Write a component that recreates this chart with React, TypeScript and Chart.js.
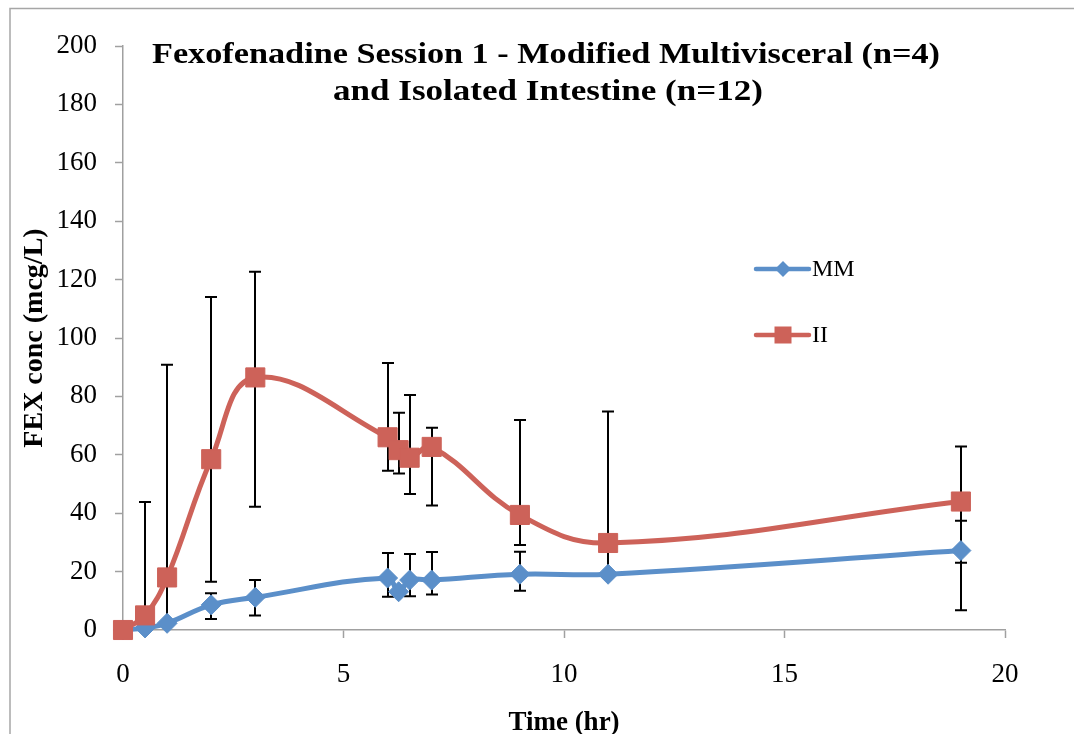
import React, { useEffect, useRef } from 'react';
import { Chart, registerables } from 'chart.js';

Chart.register(...registerables);

// ---- data ----
const times = [0, 0.5, 1, 2, 3, 6, 6.25, 6.5, 7, 9, 11, 19];
const mmValues = [0, 0.7, 2.3, 8.6, 11.2, 17.8, 13.1, 17.1, 17.1, 19.1, 19.1, 27.2];
const mmUpper: (number | null)[] = [null, null, null, 12.6, 17.1, 26.4, null, 26.0, 26.7, 26.8, null, 37.4];
const mmLower: (number | null)[] = [null, null, null, 3.8, 5.0, 11.4, null, 11.6, 12.2, 13.4, null, 6.8];
const iiValues = [0, 5, 18, 58.5, 86.5, 66, 61.6, 59, 62.7, 39.4, 29.8, 44];
const iiUpper: (number | null)[] = [null, 43.8, 90.8, 114, 122.7, 91.4, 74.4, 80.5, 69.3, 71.9, 74.8, 62.8];
const iiLower: (number | null)[] = [null, -34, -55, 16.5, 42.2, 54.5, 53.6, 46.6, 42.6, 29.1, 19.1, 23];
const seriesLabels = ['MM', 'II'];
const titleLines = ['Fexofenadine Session 1 - Modified Multivisceral (n=4)', 'and Isolated Intestine (n=12)'];
const xTitle = 'Time (hr)';
const yTitle = 'FEX conc (mcg/L)';
const xMin = 0, xMax = 20, xStep = 5;
const yMin = 0, yMax = 200, yStep = 20;

const FONT = '"Liberation Serif", "Times New Roman", serif';
const BLUE = '#5B8FC9';
const RED = '#CD6259';
const AXIS = '#A0A0A0';

export default function App() {
  const ref = useRef<HTMLCanvasElement>(null);

  useEffect(() => {
    if (!ref.current) return;

    const errorBars = {
      id: 'errorBars',
      beforeDatasetsDraw(chart: any) {
        const { ctx, chartArea, scales } = chart;
        const x = scales.x, y = scales.y;
        ctx.save();
        ctx.beginPath();
        ctx.rect(chartArea.left - 20, chartArea.top, chartArea.right - chartArea.left + 40, chartArea.bottom - chartArea.top);
        ctx.clip();
        ctx.strokeStyle = '#000';
        ctx.lineWidth = 2;
        const cap = 6;
        const sets = [
          [mmUpper, mmLower],
          [iiUpper, iiLower],
        ];
        for (const [up, lo] of sets) {
          for (let i = 0; i < times.length; i++) {
            const u = up[i], l = lo[i];
            if (u == null || l == null) continue;
            const px = Math.round(x.getPixelForValue(times[i]));
            const pu = y.getPixelForValue(u);
            const pl = y.getPixelForValue(l);
            ctx.beginPath();
            ctx.moveTo(px, pu);
            ctx.lineTo(px, pl);
            ctx.moveTo(px - cap, pu);
            ctx.lineTo(px + cap, pu);
            ctx.moveTo(px - cap, pl);
            ctx.lineTo(px + cap, pl);
            ctx.stroke();
          }
        }
        ctx.restore();
      },
    };

    const decor = {
      id: 'decor',
      beforeDraw(chart: any) {
        const { ctx } = chart;
        ctx.save();
        ctx.fillStyle = '#fff';
        ctx.fillRect(0, 0, chart.width, chart.height);
        ctx.strokeStyle = '#A6A6A6';
        ctx.lineWidth = 1.5;
        ctx.strokeRect(10, 8.5, 3000, 3000);
        ctx.restore();
      },
      afterDraw(chart: any) {
        const { ctx } = chart;
        ctx.save();
        // title (stretched horizontally to match the wider original face)
        ctx.fillStyle = '#000';
        ctx.textAlign = 'center';
        ctx.textBaseline = 'alphabetic';
        ctx.font = `bold 30px ${FONT}`;
        const drawStretched = (text: string, cx: number, y: number, target: number) => {
          const w = ctx.measureText(text).width;
          ctx.save();
          ctx.translate(cx, y);
          ctx.scale(target / w, 1);
          ctx.fillText(text, 0, 0);
          ctx.restore();
        };
        drawStretched(titleLines[0], 546, 63, 788);
        drawStretched(titleLines[1], 548, 100, 430);
        // legend
        const items = [
          { label: seriesLabels[0], color: BLUE, style: 'diamond', y: 269 },
          { label: seriesLabels[1], color: RED, style: 'square', y: 335 },
        ];
        for (const it of items) {
          ctx.strokeStyle = it.color;
          ctx.lineWidth = 4.5;
          ctx.lineCap = 'round';
          ctx.beginPath();
          ctx.moveTo(756, it.y);
          ctx.lineTo(809, it.y);
          ctx.stroke();
          ctx.fillStyle = it.color;
          const cx = 783;
          if (it.style === 'diamond') {
            const r = 8;
            ctx.beginPath();
            ctx.moveTo(cx - r, it.y);
            ctx.lineTo(cx, it.y - r);
            ctx.lineTo(cx + r, it.y);
            ctx.lineTo(cx, it.y + r);
            ctx.closePath();
            ctx.fill();
          } else {
            ctx.fillRect(cx - 8.5, it.y - 8.5, 17, 17);
          }
          ctx.fillStyle = '#000';
          ctx.textAlign = 'left';
          ctx.textBaseline = 'middle';
          ctx.font = `24px ${FONT}`;
          ctx.fillText(it.label, 812, it.y + 1);
        }
        ctx.restore();
      },
    };

    const chart = new Chart(ref.current, {
      type: 'scatter',
      data: {
        datasets: [
          {
            label: seriesLabels[0],
            data: times.map((t, i) => ({ x: t, y: mmValues[i] })),
            showLine: true,
            borderColor: BLUE,
            backgroundColor: BLUE,
            borderWidth: 5,
            pointStyle: 'rectRot',
            pointRadius: 10,
            pointBorderWidth: 1,
            pointBorderColor: BLUE,
            pointBackgroundColor: BLUE,
            tension: 0.4,
            clip: false as any,
            order: 2,
          },
          {
            label: seriesLabels[1],
            data: times.map((t, i) => ({ x: t, y: iiValues[i] })),
            showLine: true,
            borderColor: RED,
            backgroundColor: RED,
            borderWidth: 5,
            pointStyle: 'rect',
            pointRadius: 13.5,
            pointBorderWidth: 1,
            pointBorderColor: RED,
            pointBackgroundColor: RED,
            tension: 0.4,
            clip: false as any,
            order: 1,
          },
        ],
      },
      options: {
        responsive: false,
        animation: false,
        devicePixelRatio: 1,
        layout: { padding: { top: 46, right: 69, bottom: 0, left: 0 } },
        plugins: {
          legend: { display: false },
          title: { display: false },
          tooltip: { enabled: false },
        },
        scales: {
          x: {
            type: 'linear',
            min: xMin,
            max: xMax,
            afterFit: (s: any) => { s.height = 104; },
            ticks: {
              stepSize: xStep,
              color: '#000',
              font: { family: FONT, size: 27 },
              padding: 21,
              maxRotation: 0,
            },
            grid: {
              drawOnChartArea: false,
              drawTicks: true,
              tickLength: 8,
              tickColor: AXIS,
              tickWidth: 1.5,
            },
            border: { display: true, color: AXIS, width: 1.5 },
            title: {
              display: true,
              text: xTitle,
              color: '#000',
              font: { family: FONT, size: 27, weight: 'bold', lineHeight: 1 },
              padding: { top: 0, bottom: -3 },
            },
          },
          y: {
            type: 'linear',
            min: yMin,
            max: yMax,
            afterFit: (s: any) => { s.width = 123; },
            ticks: {
              stepSize: yStep,
              color: '#000',
              font: { family: FONT, size: 27 },
              padding: 18,
            },
            grid: {
              drawOnChartArea: false,
              drawTicks: true,
              tickLength: 8,
              tickColor: AXIS,
              tickWidth: 1.5,
            },
            border: { display: true, color: AXIS, width: 1.5 },
            title: {
              display: true,
              text: yTitle,
              color: '#000',
              font: { family: FONT, size: 28, weight: 'bold', lineHeight: 1 },
              padding: { top: 21, bottom: 0 },
            },
          },
        },
      },
      plugins: [decor, errorBars],
    } as any);

    return () => chart.destroy();
  }, []);

  return (
    <div style={{ position: 'fixed', left: 0, top: 0, width: 1074, height: 734, background: '#fff' }}>
      <canvas ref={ref} width={1074} height={734} style={{ width: 1074, height: 734, display: 'block' }} />
    </div>
  );
}
